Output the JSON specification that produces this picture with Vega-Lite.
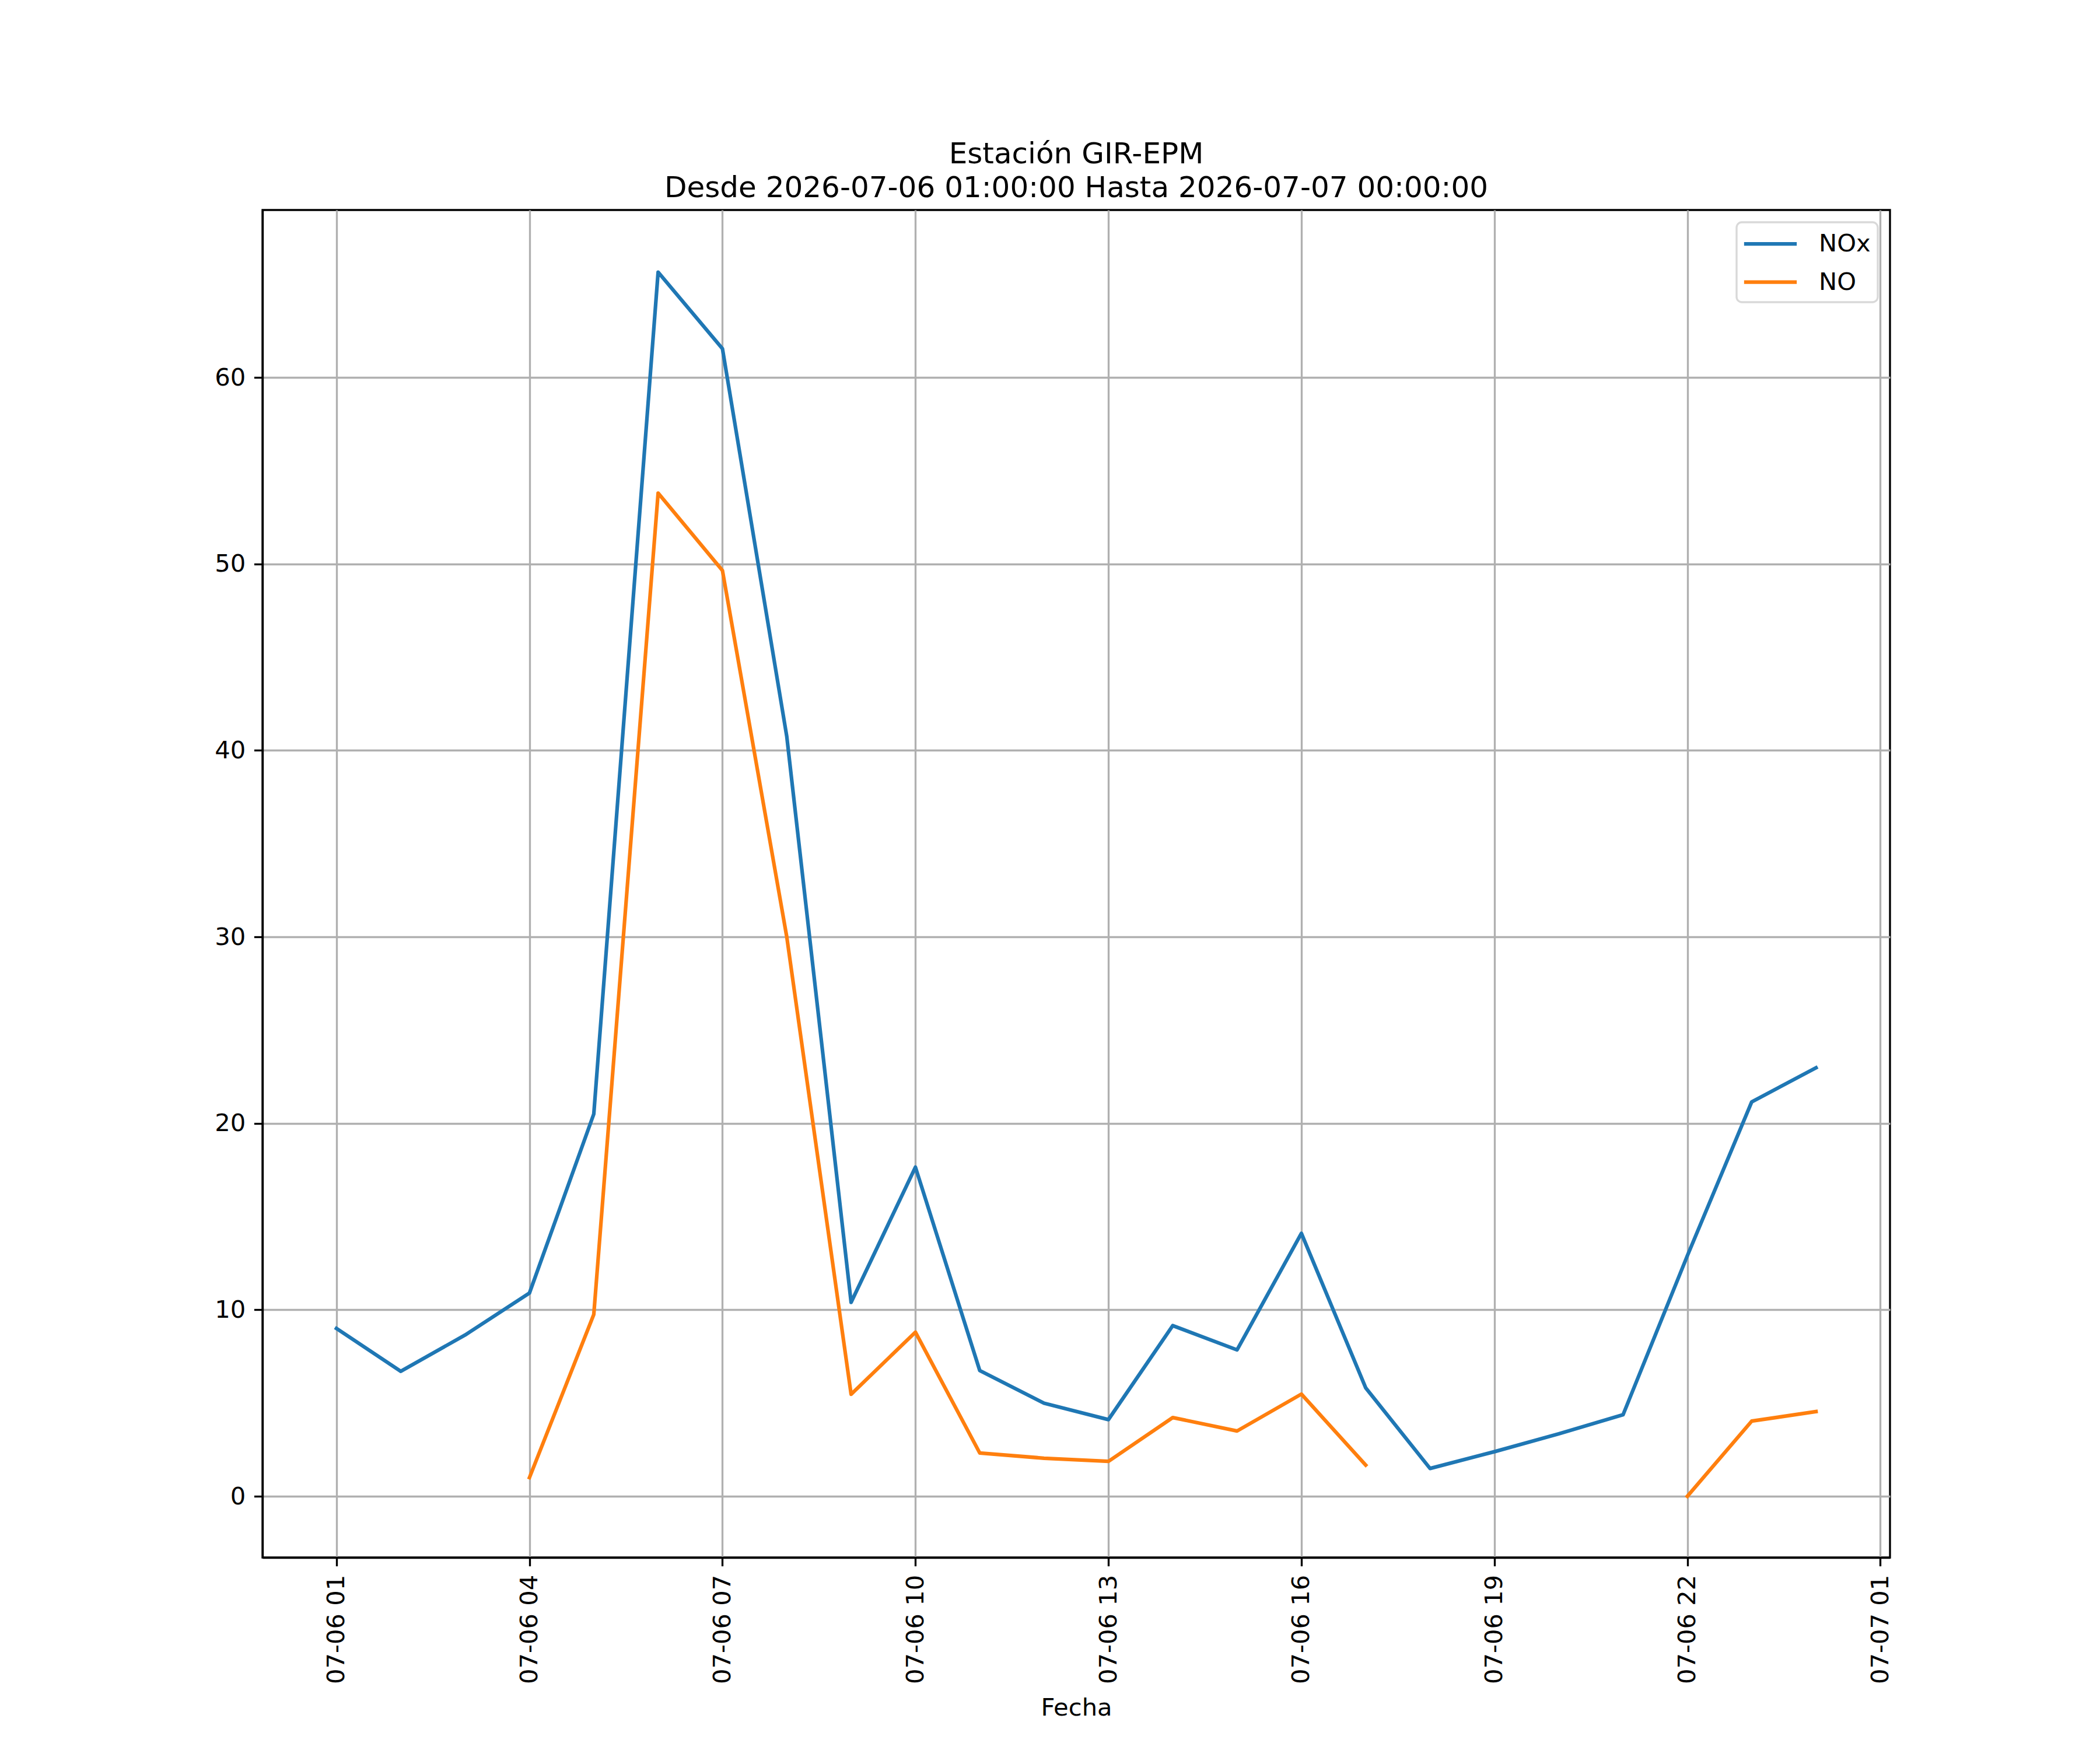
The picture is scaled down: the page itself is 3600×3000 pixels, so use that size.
{
  "$schema": "https://vega.github.io/schema/vega-lite/v6.json",
  "autosize": "none",
  "width": 2790,
  "height": 2310,
  "padding": {"left": 450, "top": 360, "right": 360, "bottom": 330},
  "background": "white",
  "title": {
    "text": ["Estación GIR-EPM", "Desde 2026-07-06 01:00:00 Hasta 2026-07-07 00:00:00"],
    "font": "DejaVu Sans",
    "fontSize": 50,
    "fontWeight": "normal",
    "color": "black",
    "anchor": "middle",
    "frame": "group",
    "baseline": "bottom",
    "lineHeight": 58,
    "offset": 14,
    "dy": 52
  },
  "data": {
    "values": [
      {"Fecha": "2026-07-06T01:00:00", "NOx": 9.0, "NO": null},
      {"Fecha": "2026-07-06T02:00:00", "NOx": 6.7, "NO": null},
      {"Fecha": "2026-07-06T03:00:00", "NOx": 8.65, "NO": null},
      {"Fecha": "2026-07-06T04:00:00", "NOx": 10.9, "NO": 1.0},
      {"Fecha": "2026-07-06T05:00:00", "NOx": 20.5, "NO": 9.75},
      {"Fecha": "2026-07-06T06:00:00", "NOx": 65.65, "NO": 53.8},
      {"Fecha": "2026-07-06T07:00:00", "NOx": 61.55, "NO": 49.65},
      {"Fecha": "2026-07-06T08:00:00", "NOx": 40.75, "NO": 30.0},
      {"Fecha": "2026-07-06T09:00:00", "NOx": 10.4, "NO": 5.47},
      {"Fecha": "2026-07-06T10:00:00", "NOx": 17.65, "NO": 8.8},
      {"Fecha": "2026-07-06T11:00:00", "NOx": 6.74, "NO": 2.32},
      {"Fecha": "2026-07-06T12:00:00", "NOx": 4.99, "NO": 2.04},
      {"Fecha": "2026-07-06T13:00:00", "NOx": 4.11, "NO": 1.87},
      {"Fecha": "2026-07-06T14:00:00", "NOx": 9.15, "NO": 4.22},
      {"Fecha": "2026-07-06T15:00:00", "NOx": 7.85, "NO": 3.5},
      {"Fecha": "2026-07-06T16:00:00", "NOx": 14.1, "NO": 5.48},
      {"Fecha": "2026-07-06T17:00:00", "NOx": 5.81, "NO": 1.67},
      {"Fecha": "2026-07-06T18:00:00", "NOx": 1.49, "NO": null},
      {"Fecha": "2026-07-06T19:00:00", "NOx": 2.39, "NO": null},
      {"Fecha": "2026-07-06T20:00:00", "NOx": 3.35, "NO": null},
      {"Fecha": "2026-07-06T21:00:00", "NOx": 4.37, "NO": null},
      {"Fecha": "2026-07-06T22:00:00", "NOx": 12.9, "NO": 0.0},
      {"Fecha": "2026-07-06T23:00:00", "NOx": 21.15, "NO": 4.03},
      {"Fecha": "2026-07-07T00:00:00", "NOx": 22.98, "NO": 4.54}
    ]
  },
  "transform": [
    {"fold": ["NOx", "NO"], "as": ["Serie", "Valor"]}
  ],
  "mark": {
    "type": "line",
    "strokeWidth": 6.25,
    "strokeJoin": "round",
    "strokeCap": "square",
    "invalid": "break-paths-show-domains"
  },
  "encoding": {
    "x": {
      "field": "Fecha",
      "type": "temporal",
      "title": "Fecha",
      "scale": {
        "domain": [
          {"year": 2026, "month": 7, "date": 5, "hours": 23, "minutes": 51},
          {"year": 2026, "month": 7, "date": 7, "hours": 1, "minutes": 9}
        ],
        "nice": false
      },
      "axis": {
        "format": "%m-%d %H",
        "labelAngle": 270,
        "labelLimit": 0,
        "values": [
          {"year": 2026, "month": 7, "date": 6, "hours": 1},
          {"year": 2026, "month": 7, "date": 6, "hours": 4},
          {"year": 2026, "month": 7, "date": 6, "hours": 7},
          {"year": 2026, "month": 7, "date": 6, "hours": 10},
          {"year": 2026, "month": 7, "date": 6, "hours": 13},
          {"year": 2026, "month": 7, "date": 6, "hours": 16},
          {"year": 2026, "month": 7, "date": 6, "hours": 19},
          {"year": 2026, "month": 7, "date": 6, "hours": 22},
          {"year": 2026, "month": 7, "date": 7, "hours": 1}
        ],
        "titlePadding": 37
      }
    },
    "y": {
      "field": "Valor",
      "type": "quantitative",
      "title": null,
      "scale": {"domain": [-3.285, 68.985], "nice": false, "zero": false},
      "axis": {"values": [0, 10, 20, 30, 40, 50, 60]}
    },
    "color": {
      "field": "Serie",
      "type": "nominal",
      "scale": {"domain": ["NOx", "NO"], "range": ["#1f77b4", "#ff7f0e"]},
      "legend": {
        "title": null,
        "orient": "top-right",
        "offset": 21,
        "padding": 12,
        "fillColor": "white",
        "strokeColor": "#d9d9d9",
        "cornerRadius": 9,
        "symbolType": "M-2.1,0H2.1",
        "symbolSize": 1849,
        "symbolOffset": 21,
        "symbolStrokeWidth": 6.25,
        "labelFontSize": 41.67,
        "labelFont": "DejaVu Sans",
        "labelColor": "black",
        "labelOffset": 58,
        "rowPadding": 18.5,
        "encode": {
          "legend": {"update": {"strokeWidth": {"value": 3.33}}}
        }
      }
    }
  },
  "config": {
    "font": "DejaVu Sans",
    "view": {"stroke": "black", "strokeWidth": 3.33},
    "axis": {
      "labelFont": "DejaVu Sans",
      "labelFontSize": 41.67,
      "labelColor": "black",
      "labelPadding": 14.6,
      "tickSize": 14.6,
      "tickWidth": 3.33,
      "tickColor": "black",
      "domainColor": "black",
      "domainWidth": 3.33,
      "grid": true,
      "gridColor": "#b0b0b0",
      "gridWidth": 3.33,
      "titleFont": "DejaVu Sans",
      "titleFontSize": 41.67,
      "titleFontWeight": "normal",
      "titleColor": "black",
      "labelFlush": false,
      "labelOverlap": false
    }
  }
}
